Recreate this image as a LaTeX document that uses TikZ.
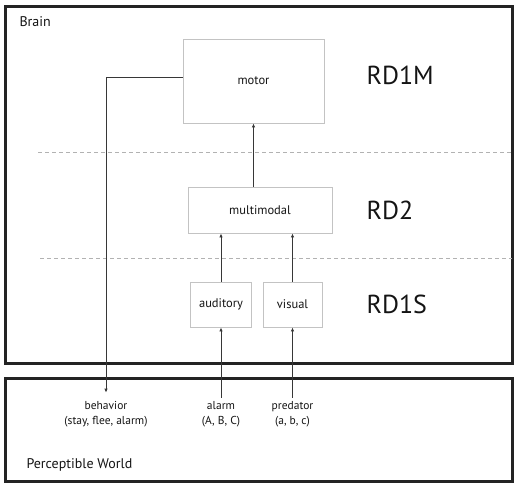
\documentclass[tikz,border=0pt]{standalone}
\usepackage{fontspec}
\setmainfont{PT Sans}
\usetikzlibrary{arrows.meta}

\begin{document}
\begin{tikzpicture}[x=1pt, y=-1pt, font=\fontsize{12.5}{14}\selectfont,
    box/.style={draw=boxGray, line width=0.9pt, fill=white, inner sep=0pt, text=textDark},
    frame/.style={draw=frameDark, line width=3pt},
    level/.style={draw=gray!60, dashed, dash pattern=on 4pt off 3pt, line width=0.8pt},
    link/.style={lineDark, line width=0.8pt, -{Latex[length=4pt, width=3.5pt]}},
    rdlabel/.style={anchor=west, text=textDark, font=\fontsize{26}{28}\selectfont},
    world/.style={align=center, text=textDark, font=\fontsize{11.5}{15}\selectfont}]
    % Kolory
    \definecolor{boxGray}{RGB}{195, 195, 195}
    \definecolor{frameDark}{RGB}{35, 35, 35}
    \definecolor{lineDark}{RGB}{55, 55, 55}
    \definecolor{textDark}{RGB}{20, 20, 20}

    \useasboundingbox (0,0) rectangle (521,485);

    % Ramki
    \draw[frame] (5.5,6.5) rectangle (512.5,363);
    \draw[frame] (5.5,378.5) rectangle (512.5,481.5);
    \node[anchor=west, text=textDark, font=\fontsize{14}{16}\selectfont] (brain) at (16,22) {Brain};
    \node[anchor=west, text=textDark, font=\fontsize{14}{16}\selectfont] (perc) at (23,465) {Perceptible World};

    % Poziomy
    \draw[level] (38,152) -- (512,152);
    \draw[level] (40,258) -- (512,258);

    % Moduly
    \node[box, minimum width=141pt, minimum height=84pt] (motor) at (253.5,81) {motor};
    \node[box, minimum width=144pt, minimum height=46pt] (mm) at (260,210) {multimodal};
    \node[box, minimum width=61pt, minimum height=45pt] (aud) at (221,304.5) {auditory};
    \node[box, minimum width=59pt, minimum height=45pt] (vis) at (292.5,304.5) {visual};

    \node[rdlabel] (rd1m) at (363,75) {RD1M};
    \node[rdlabel] (rd2) at (363,210) {RD2};
    \node[rdlabel] (rd1s) at (363,304) {RD1S};

    % Swiat
    \node[world] (beh) at (106,414) {behavior\\(stay, flee, alarm)};
    \node[world] (alarm) at (221,414) {alarm\\(A, B, C)};
    \node[world] (pred) at (292.5,414) {predator\\(a, b, c)};

    % Polaczenia
    \draw[link] (alarm.north) -- (aud.south);
    \draw[link] (pred.north) -- (vis.south);
    \draw[link] (aud.north) -- (aud.north |- mm.south);
    \draw[link] (vis.north) -- (vis.north |- mm.south);
    \draw[link] (motor.south |- mm.north) -- (motor.south);
    \draw[link, shorten >=5pt] ([yshift=4pt]motor.west) -| (beh.north);
\end{tikzpicture}
\end{document}
